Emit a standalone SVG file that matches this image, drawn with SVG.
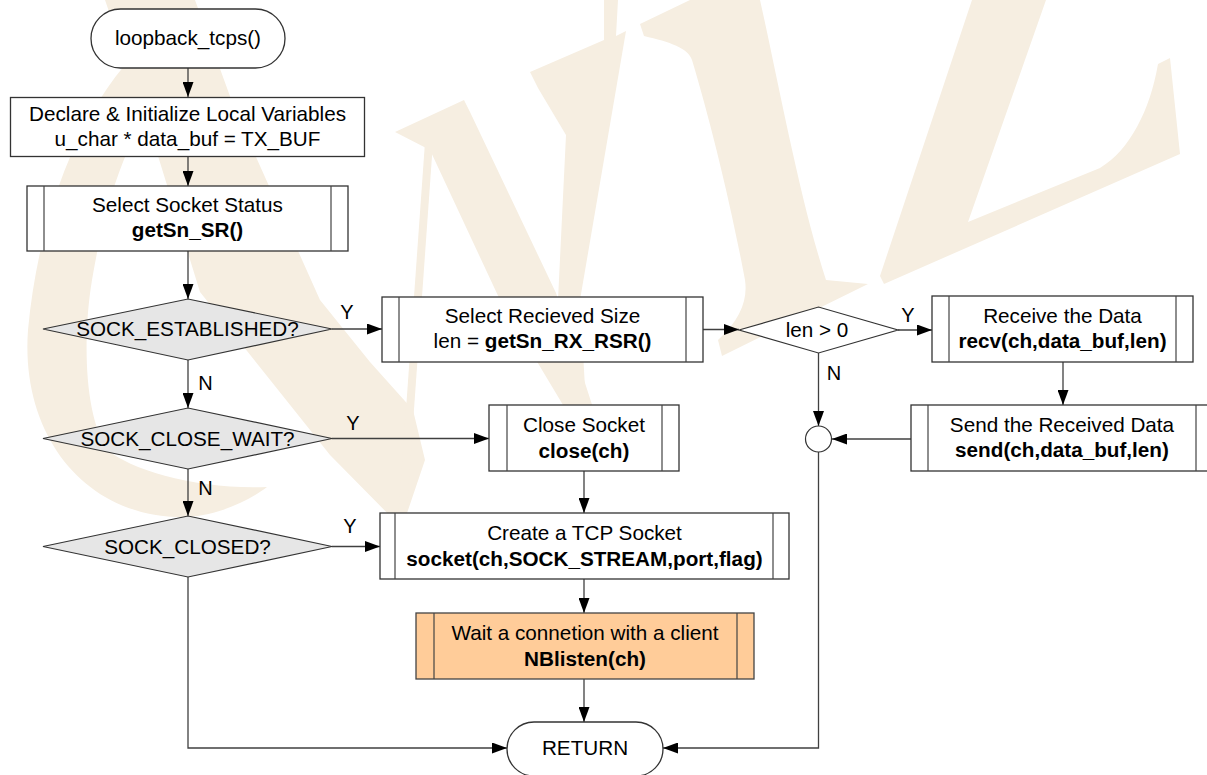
<svg xmlns="http://www.w3.org/2000/svg" width="1207" height="775" viewBox="0 0 1207 775">
<defs>
<marker id="arr" viewBox="0 0 15 11" refX="15" refY="5.5" markerWidth="15" markerHeight="11" markerUnits="userSpaceOnUse" orient="auto">
<path d="M0,0 L15,5.5 L0,11 z" fill="#000"/>
</marker>
<style>
.wm{fill:#f6eee1;stroke:none}
.box{fill:#fff;stroke:#333;stroke-width:1.3}
.inner{stroke:#444;stroke-width:1.2;fill:none}
.dia{fill:#e6e6e6;stroke:#333;stroke-width:1.2}
.dw{fill:#fff;stroke:#333;stroke-width:1.2}
.org{fill:#ffcc99;stroke:#444;stroke-width:1.3}
.t{font-family:"Liberation Sans",Arial,sans-serif;font-size:20.7px;fill:#000;text-anchor:middle}
.b{font-weight:bold}
.lbl{font-family:"Liberation Sans",Arial,sans-serif;font-size:20px;fill:#000;text-anchor:middle}
.ca{fill:none;stroke:#404040;stroke-width:1.3;marker-end:url(#arr)}
</style>
</defs>
<rect width="1207" height="775" fill="#fff"/>
<g id="background-logo">
<path class="wm" d="M150,40 C90,90 40,200 28,330 C20,440 90,520 187,517 C220,515 250,500 267,487 C200,490 130,470 108,450 C85,420 82,340 92,280 C102,220 120,150 160,90 Z"/>
<polygon class="wm" points="105,0 195,0 235,110 320,300 370,362 413,410 425,460 402,528 330,455 200,292 150,130"/>
<polygon class="wm" points="398,522 406,522 434,128 426,128"/>
<polygon class="wm" points="395,132 464,100 470,112 556,293 605,445 590,450 500,300 430,150"/>
<polygon class="wm" points="530,72 604,40 604,0 618,0 616,36 626,31 580,300 588,440 575,445 558,300 566,135 538,88"/>
<path class="wm" d="M640,24 L690,0 L760,0 C780,90 800,200 826,280 L868,284 L722,356 L718,340 C740,320 748,300 745,280 C730,200 710,120 692,60 C688,48 670,42 644,36 Z"/>
<path class="wm" d="M972,0 L1046,0 L968,222 L1100,168 C1130,150 1150,110 1158,64 L1170,58 L1180,154 L884,284 L880,276 Z"/>
</g>
<g id="connectors">
<path class="ca" d="M188,68 V97"/>
<path class="ca" d="M188,157 V186"/>
<path class="ca" d="M188,251 V299"/>
<path class="ca" d="M332,329 H382"/>
<path class="ca" d="M188,360 V408"/>
<path class="ca" d="M332,438.5 H489"/>
<path class="ca" d="M188,469 V516"/>
<path class="ca" d="M332,546.5 H380"/>
<path class="ca" d="M188,577 V748 H507"/>
<path class="ca" d="M703,329.5 H739"/>
<path class="ca" d="M898,330 H932"/>
<path class="ca" d="M1063,362 V405"/>
<path class="ca" d="M818.5,353 V426"/>
<path class="ca" d="M911,439 H832"/>
<path class="ca" d="M584,471 V513"/>
<path class="ca" d="M584,579 V613"/>
<path class="ca" d="M584,679 V722"/>
<path class="ca" d="M818.5,452 V748 H663"/>
<text class="lbl" x="347" y="319">Y</text>
<text class="lbl" x="205.5" y="390">N</text>
<text class="lbl" x="353" y="430">Y</text>
<text class="lbl" x="205.5" y="495">N</text>
<text class="lbl" x="350" y="533">Y</text>
<text class="lbl" x="908" y="322">Y</text>
<text class="lbl" x="834" y="380">N</text>
</g>
<g id="start">
<rect class="box" x="91" y="9" width="194" height="59" rx="29.5"/>
<text class="t" x="188" y="45">loopback_tcps()</text>
</g>
<g id="declare">
<rect class="box" x="10.5" y="97.5" width="354" height="59"/>
<text class="t" x="187.5" y="121">Declare &amp; Initialize Local Variables</text>
<text class="t" x="187.5" y="146">u_char * data_buf = TX_BUF</text>
</g>
<g id="select-status">
<rect class="box" x="27" y="186" width="321" height="65"/>
<path class="inner" d="M44,186 V251 M331,186 V251"/>
<text class="t" x="187.5" y="212">Select Socket Status</text>
<text class="t b" x="187.5" y="237">getSn_SR()</text>
</g>
<g id="dec-established">
<polygon class="dia" points="43,329 188,299 332,329 188,360"/>
<text class="t" x="187.5" y="336">SOCK_ESTABLISHED?</text>
</g>
<g id="dec-closewait">
<polygon class="dia" points="43,438.5 188,408 332,438.5 188,469"/>
<text class="t" x="187.5" y="445.5">SOCK_CLOSE_WAIT?</text>
</g>
<g id="dec-closed">
<polygon class="dia" points="43,546.5 188,516 332,546.5 188,577"/>
<text class="t" x="187.5" y="553.5">SOCK_CLOSED?</text>
</g>
<g id="select-size">
<rect class="box" x="382" y="297" width="321" height="65"/>
<path class="inner" d="M399,297 V362 M686,297 V362"/>
<text class="t" x="542.5" y="323">Select Recieved Size</text>
<text class="t" x="542.5" y="348">len = <tspan class="b">getSn_RX_RSR()</tspan></text>
</g>
<g id="dec-len">
<polygon class="dw" points="739,330 818.5,307 898,330 818.5,353"/>
<text class="t" x="817" y="337">len &gt; 0</text>
</g>
<g id="receive">
<rect class="box" x="932" y="296" width="261" height="66"/>
<path class="inner" d="M949,296 V362 M1176,296 V362"/>
<text class="t" x="1062.5" y="323">Receive the Data</text>
<text class="t b" x="1062.5" y="348">recv(ch,data_buf,len)</text>
</g>
<g id="send">
<rect class="box" x="911" y="405" width="302" height="66"/>
<path class="inner" d="M928,405 V471 M1196,405 V471"/>
<text class="t" x="1062" y="432">Send the Received Data</text>
<text class="t b" x="1062" y="457">send(ch,data_buf,len)</text>
</g>
<g id="junction">
<circle cx="818.5" cy="439" r="13" fill="#fff" stroke="#333" stroke-width="1.2"/>
</g>
<g id="close">
<rect class="box" x="489" y="405" width="190" height="66"/>
<path class="inner" d="M507,405 V471 M662,405 V471"/>
<text class="t" x="584" y="432">Close Socket</text>
<text class="t b" x="584" y="458">close(ch)</text>
</g>
<g id="create">
<rect class="box" x="380" y="513" width="409" height="66"/>
<path class="inner" d="M395,513 V579 M773,513 V579"/>
<text class="t" x="584.5" y="540">Create a TCP Socket</text>
<text class="t b" x="584.5" y="566">socket(ch,SOCK_STREAM,port,flag)</text>
</g>
<g id="listen">
<rect class="org" x="416" y="613" width="338" height="66"/>
<path class="inner" d="M434,613 V679 M737,613 V679"/>
<text class="t" x="585" y="640">Wait a connetion with a client</text>
<text class="t b" x="585" y="666">NBlisten(ch)</text>
</g>
<g id="return">
<rect class="box" x="507" y="722" width="156" height="54" rx="27"/>
<text class="t" x="585" y="755">RETURN</text>
</g>
</svg>
